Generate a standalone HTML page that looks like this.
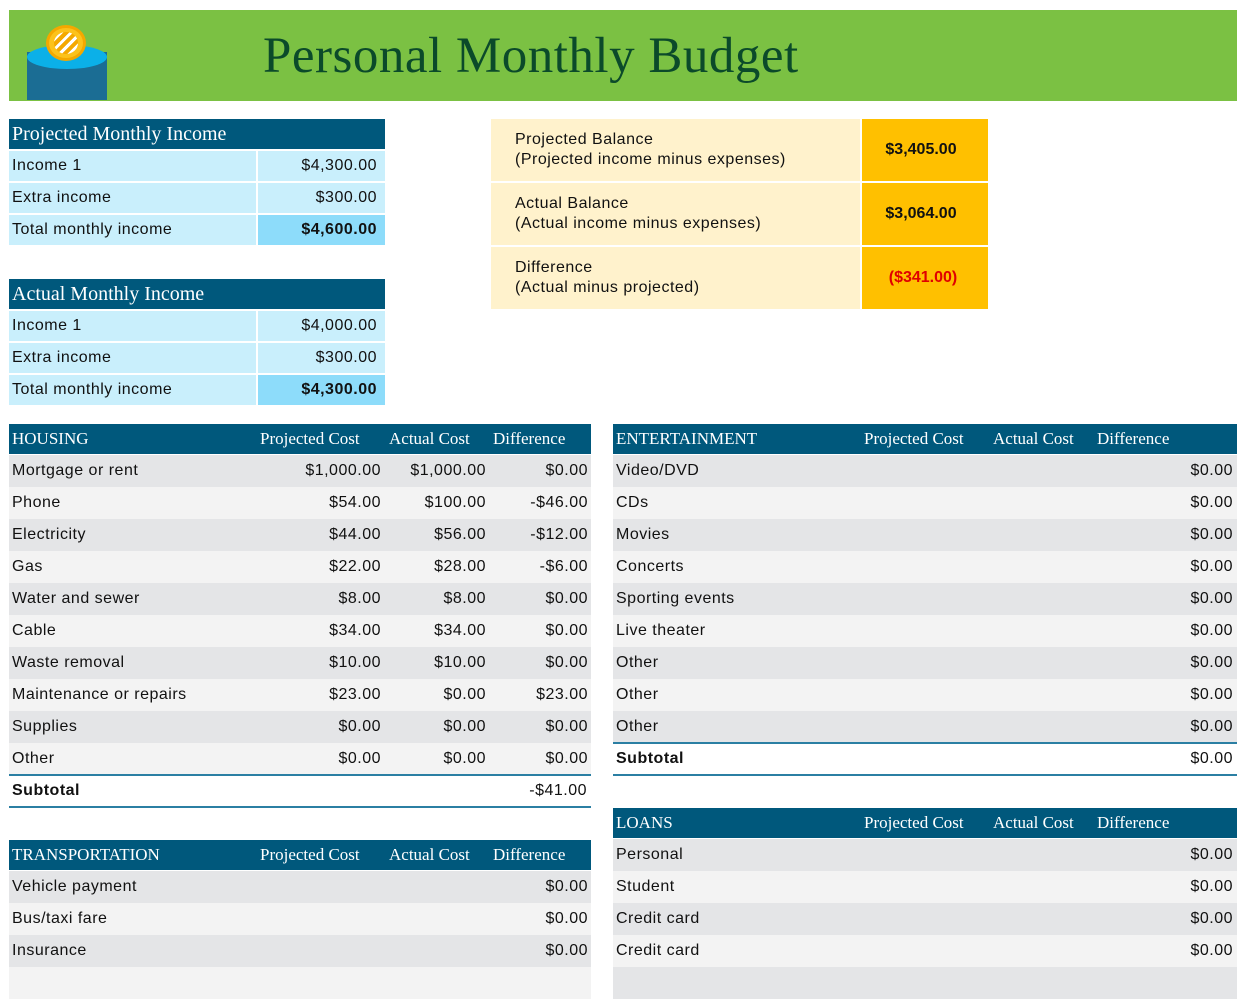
<!DOCTYPE html><html><head><style>
*{margin:0;padding:0;box-sizing:border-box}
body{width:1259px;height:970px;background:#fff;position:relative;overflow:hidden;font-family:"Liberation Sans",sans-serif;font-size:16px;color:#111;letter-spacing:0.5px}
.a{position:absolute}
.h{background:#00587c;color:#fff;font-family:"Liberation Serif",serif;font-size:17px;letter-spacing:0}
.r{text-align:right}
.t{position:absolute;line-height:32px;white-space:nowrap}
</style></head><body>
<div class="a" style="left:9px;top:10px;width:1228px;height:91px;background:#7bc143"></div>
<div class="a" style="left:27px;top:52px;width:80px;height:48px;background:#1b6d94"></div>
<div class="a" style="left:27px;top:45px;width:80px;height:24px;border-radius:50%;background:#0bb0e8"></div>
<div class="a" style="left:46px;top:25px;width:40px;height:36px;border-radius:50%;background:#fcc21b;border:3px solid #f4a800"></div>
<div class="a" style="left:54px;top:32px;width:24px;height:22px;border-radius:50%;background:repeating-linear-gradient(135deg,#f4a800 0 4px,#fff 4px 7px)"></div>
<div class="a" style="left:263px;top:26px;font-family:'Liberation Serif',serif;font-size:51px;color:#0b4a2a;letter-spacing:0.5px;line-height:60px">Personal Monthly Budget</div>

<div class="a h" style="left:9px;top:119px;width:376px;height:30px;line-height:30px;padding-left:3px;font-size:20px">Projected Monthly Income</div>
<div class="a" style="left:9px;top:151px;width:247px;height:94px;background:#c9effc"></div>
<div class="a" style="left:258px;top:151px;width:127px;height:62px;background:#c9effc"></div>
<div class="a" style="left:258px;top:215px;width:127px;height:30px;background:#8ddcfa"></div>
<div class="a" style="left:9px;top:181px;width:376px;height:2px;background:#fff"></div>
<div class="a" style="left:9px;top:213px;width:376px;height:2px;background:#fff"></div>
<div class="t" style="left:12px;top:150px">Income 1</div><div class="t r" style="left:258px;width:119px;top:150px">$4,300.00</div>
<div class="t" style="left:12px;top:182px">Extra income</div><div class="t r" style="left:258px;width:119px;top:182px">$300.00</div>
<div class="t" style="left:12px;top:214px">Total monthly income</div><div class="t r" style="left:258px;width:119px;top:214px;font-weight:bold">$4,600.00</div>

<div class="a h" style="left:9px;top:279px;width:376px;height:30px;line-height:30px;padding-left:3px;font-size:20px">Actual Monthly Income</div>
<div class="a" style="left:9px;top:311px;width:247px;height:94px;background:#c9effc"></div>
<div class="a" style="left:258px;top:311px;width:127px;height:62px;background:#c9effc"></div>
<div class="a" style="left:258px;top:375px;width:127px;height:30px;background:#8ddcfa"></div>
<div class="a" style="left:9px;top:341px;width:376px;height:2px;background:#fff"></div>
<div class="a" style="left:9px;top:373px;width:376px;height:2px;background:#fff"></div>
<div class="t" style="left:12px;top:310px">Income 1</div><div class="t r" style="left:258px;width:119px;top:310px">$4,000.00</div>
<div class="t" style="left:12px;top:342px">Extra income</div><div class="t r" style="left:258px;width:119px;top:342px">$300.00</div>
<div class="t" style="left:12px;top:374px">Total monthly income</div><div class="t r" style="left:258px;width:119px;top:374px;font-weight:bold">$4,300.00</div>

<div class="a" style="left:491px;top:119px;width:369px;height:62px;background:#fff2cc"></div>
<div class="a" style="left:862px;top:119px;width:126px;height:62px;background:#ffc000"></div>
<div class="a" style="left:491px;top:183px;width:369px;height:62px;background:#fff2cc"></div>
<div class="a" style="left:862px;top:183px;width:126px;height:62px;background:#ffc000"></div>
<div class="a" style="left:491px;top:247px;width:369px;height:62px;background:#fff2cc"></div>
<div class="a" style="left:862px;top:247px;width:126px;height:62px;background:#ffc000"></div>
<div class="a" style="left:515px;top:130px;line-height:20px">Projected Balance<br>(Projected income minus expenses)</div>
<div class="a" style="left:515px;top:194px;line-height:20px">Actual Balance<br>(Actual income minus expenses)</div>
<div class="a" style="left:515px;top:258px;line-height:20px">Difference<br>(Actual minus projected)</div>
<div class="t" style="left:858px;width:126px;text-align:center;top:134px;font-weight:bold;letter-spacing:0">$3,405.00</div>
<div class="t" style="left:858px;width:126px;text-align:center;top:198px;font-weight:bold;letter-spacing:0">$3,064.00</div>
<div class="t" style="left:862px;width:122px;text-align:center;top:262px;font-weight:bold;letter-spacing:0;color:#e00000">($341.00)</div>

<div id="tables"></div>
<script>
function table(x,w,y,title,cols,rows,sub){
 let h='';
 h+=`<div class="a h" style="left:${x}px;top:${y}px;width:${w}px;height:30px"></div>`;
 h+=`<div class="t h" style="left:${x+3}px;top:${y-1}px;background:none">${title}</div>`;
 cols.forEach((c,i)=>h+=`<div class="t h" style="left:${x+c}px;top:${y-1}px;background:none">${['Projected Cost','Actual Cost','Difference'][i]}</div>`);
 let yy=y+31;
 rows.forEach((r,i)=>{
  h+=`<div class="a" style="left:${x}px;top:${yy}px;width:${w}px;height:32px;background:${i%2?'#f3f3f3':'#e4e5e7'}"></div>`;
  h+=`<div class="t" style="left:${x+3}px;top:${yy}px">${r[0]}</div>`;
  const rs=[x+372,x+477,x+579];
  for(let k=1;k<=3;k++) if(r[k]) h+=`<div class="t r" style="left:${rs[k-1]-150}px;width:150px;top:${yy}px">${r[k]}</div>`;
  yy+=32;
 });
 if(sub!==undefined){
  h+=`<div class="a" style="left:${x}px;top:${yy-1}px;width:${w}px;height:2px;background:#2b7fa3"></div>`;
  h+=`<div class="t" style="left:${x+3}px;top:${yy}px;font-weight:bold">Subtotal</div>`;
  h+=`<div class="t r" style="left:${x+w-154}px;width:150px;top:${yy}px">${sub}</div>`;
  h+=`<div class="a" style="left:${x}px;top:${yy+31}px;width:${w}px;height:2px;background:#2b7fa3"></div>`;
 }
 return h;
}
const Z='$0.00';
let H='';
H+=table(9,582,424,'HOUSING',[251,380,484],[
['Mortgage or rent','$1,000.00','$1,000.00',Z],['Phone','$54.00','$100.00','-$46.00'],['Electricity','$44.00','$56.00','-$12.00'],['Gas','$22.00','$28.00','-$6.00'],['Water and sewer','$8.00','$8.00',Z],['Cable','$34.00','$34.00',Z],['Waste removal','$10.00','$10.00',Z],['Maintenance or repairs','$23.00',Z,'$23.00'],['Supplies',Z,Z,Z],['Other',Z,Z,Z]],'-$41.00');
function e(n){return [n,'','',''];}
let ent=['Video/DVD','CDs','Movies','Concerts','Sporting events','Live theater','Other','Other','Other'].map(e);
H+=table(613,624,424,'ENTERTAINMENT',[251,380,484],ent,Z);
H+=table(613,624,808,'LOANS',[251,380,484],['Personal','Student','Credit card','Credit card','x'].map(e));
H+=table(9,582,840,'TRANSPORTATION',[251,380,484],['Vehicle payment','Bus/taxi fare','Insurance','x'].map(e));
document.getElementById('tables').innerHTML=H;
document.querySelectorAll('.t').forEach(t=>{if(t.textContent==='x')t.textContent='';});
</script>
<script>
(function(){
 const add=(x,ys)=>ys.forEach(y=>{const d=document.createElement('div');d.className='t r';d.style.cssText=`left:${x-150}px;width:150px;top:${y}px`;d.textContent='$0.00';document.body.appendChild(d);});
 add(1233,[455,487,519,551,583,615,647,679,711]);
 add(1233,[839,871,903,935]);
 add(588,[871,903,935]);
})();
</script>
</body></html>
